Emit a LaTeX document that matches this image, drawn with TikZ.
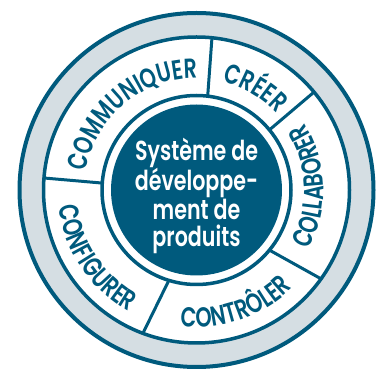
\documentclass[tikz,border=0pt]{standalone}
\usepackage{fontspec}
\setmainfont{Poppins}
\newfontfamily\pmed{Poppins SemiBold}[FakeStretch=0.75]
\usetikzlibrary{decorations.text}
\definecolor{dk}{RGB}{0,90,125}
\definecolor{lg}{RGB}{213,222,227}
\tikzset{
  arctext/.style={decorate, decoration={text along path, text align=center,
     text color=dk, text={|\pmed\fontsize{27.5}{27.5}\selectfont|#1}}},
  divider/.style={dk, line width=3}
}
\begin{document}
\begin{tikzpicture}[x=1pt,y=1pt]
\useasboundingbox (0,0) rectangle (383,372);
\begin{scope}[shift={(196.5,182)}]
  \fill[lg, even odd rule] (0,0) circle (177) (0,0) circle (153);
  \draw[dk, line width=4] (0,0) circle (177);
  \draw[dk, line width=3.5] (0,0) circle (153);
  \draw[dk, line width=3.5] (0,0) circle (94.5);
  \fill[dk] (0,0) circle (85.5);
  % dividers
  \coordinate (d1a) at (83.2:94.5);  \coordinate (d1b) at (84.2:153);
  \coordinate (d2a) at (39.5:94.5);  \coordinate (d2b) at (39.8:153);
  \coordinate (d3a) at (-39.5:94.5); \coordinate (d3b) at (-35.5:153);
  \coordinate (d4a) at (253:94.5);   \coordinate (d4b) at (249.5:153);
  \coordinate (d5a) at (175.8:94.5); \coordinate (d5b) at (175.5:153);
  \draw[divider] (d1a) -- (d1b);
  \draw[divider] (d2a) -- (d2b);
  \draw[divider] (d3a) -- (d3b);
  \draw[divider] (d4a) -- (d4b);
  \draw[divider] (d5a) -- (d5b);
  % arc labels
  \path[arctext=COMMUNIQUER] (175:112) arc[start angle=175, end angle=85, radius=112];
  \path[arctext=CRÉER] (82:111) arc[start angle=82, end angle=38, radius=111];
  \path[arctext=COLLABORER] (-40:127) arc[start angle=-40, end angle=44, radius=127];
  \path[arctext=CONTRÔLER] (250:137) arc[start angle=250, end angle=328, radius=137];
  \path[arctext=CONFIGURER] (174:139) arc[start angle=174, end angle=254, radius=139];
  % centre
  \node[text=white, align=center, font=\pmed\fontsize{27.5}{27.5}\selectfont, inner sep=0pt]
    (c) at (0,-6) {Système de\\développe-\\ment de\\produits};
\end{scope}
\end{tikzpicture}
\end{document}
